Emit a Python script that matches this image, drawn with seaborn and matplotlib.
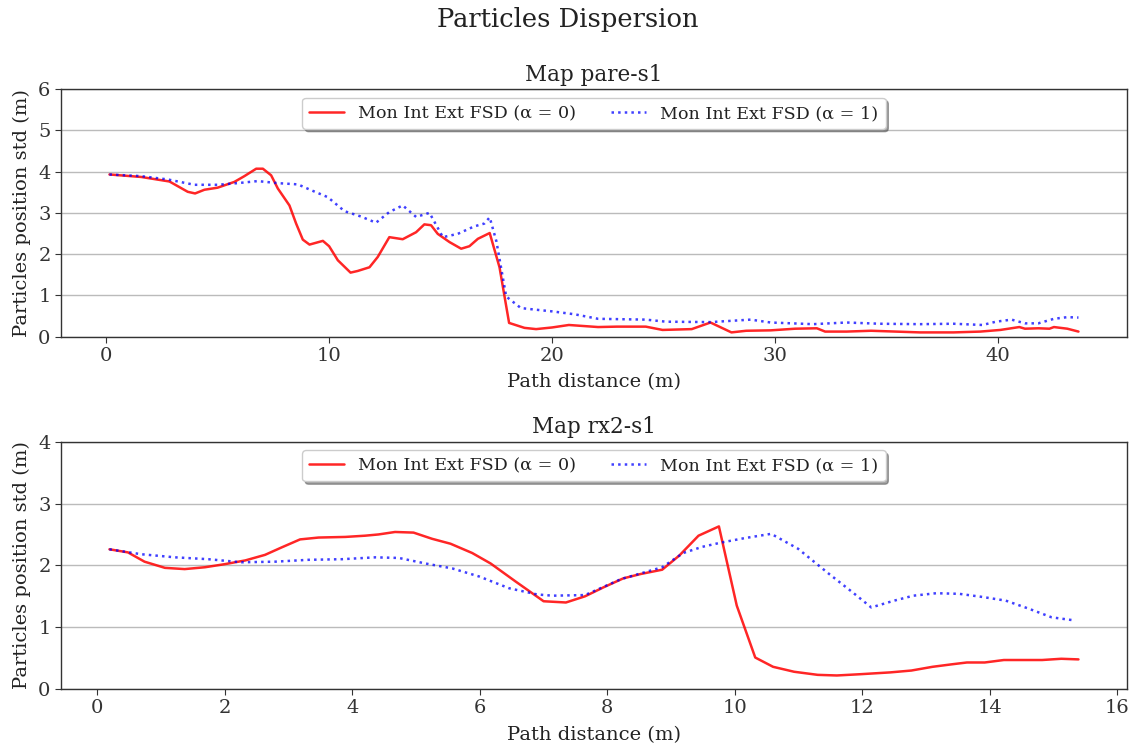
import matplotlib
matplotlib.use("Agg")
import matplotlib.pyplot as plt
import seaborn as sns
import numpy as np

# ---- Data: Map pare-s1 ----
pare_x_a0 = [0.15, 1.57, 2.84, 3.66, 3.99, 4.41, 5.0, 5.75, 6.2, 6.73, 7.03, 7.4, 7.7, 8.22,
             8.52, 8.82, 9.12, 9.72, 10.0, 10.39, 10.96, 11.28, 11.81, 12.18, 12.7, 13.3, 13.9,
             14.27, 14.57, 14.87, 15.4, 15.92, 16.29, 16.67, 17.2, 17.64, 18.07, 18.76, 19.28,
             20.0, 20.75, 22.06, 22.9, 24.2, 24.95, 26.26, 27.1, 28.04, 28.7, 29.8, 30.9,
             31.87, 32.24, 33.2, 34.3, 35.4, 36.5, 38.0, 39.2, 40.1, 40.95, 41.2, 41.8, 42.3,
             42.5, 43.1, 43.6]
pare_y_a0 = [3.93, 3.87, 3.76, 3.51, 3.47, 3.56, 3.61, 3.75, 3.89, 4.07, 4.07, 3.91, 3.59, 3.18,
             2.74, 2.35, 2.23, 2.32, 2.19, 1.85, 1.55, 1.59, 1.68, 1.93, 2.41, 2.36, 2.53,
             2.72, 2.70, 2.49, 2.29, 2.13, 2.19, 2.37, 2.51, 1.68, 0.33, 0.21, 0.18,
             0.22, 0.28, 0.23, 0.24, 0.24, 0.16, 0.18, 0.34, 0.10, 0.14, 0.15, 0.19,
             0.20, 0.12, 0.12, 0.14, 0.12, 0.10, 0.10, 0.12, 0.16, 0.23, 0.19, 0.20, 0.19,
             0.23, 0.19, 0.12]

pare_x_a1 = [0.15, 1.57, 2.76, 3.96, 5.0, 5.9, 6.8, 7.7, 8.6, 9.19, 9.94, 10.69, 11.43, 12.1,
             12.7, 13.3, 13.9, 14.5, 15.1, 15.77, 16.5, 16.96, 17.2, 17.5, 17.94, 18.6, 19.28,
             20.0, 21.0, 22.06, 24.2, 25.1, 27.1, 28.9, 29.8, 31.7, 33.2, 34.7, 36.5, 38.0,
             39.3, 39.9, 40.6, 41.2, 41.8, 42.5, 43.1, 43.6]
pare_y_a1 = [3.93, 3.89, 3.81, 3.68, 3.68, 3.72, 3.77, 3.72, 3.69, 3.55, 3.38, 3.04, 2.91, 2.76,
             3.02, 3.18, 2.90, 3.00, 2.41, 2.49, 2.67, 2.74, 2.89, 2.31, 0.97, 0.69, 0.65,
             0.61, 0.54, 0.43, 0.41, 0.36, 0.35, 0.41, 0.34, 0.30, 0.34, 0.31, 0.30, 0.31,
             0.28, 0.36, 0.41, 0.32, 0.32, 0.43, 0.47, 0.46]

# ---- Data: Map rx2-s1 ----
rx2_x_a0 = [0.19, 0.48, 0.74, 1.06, 1.37, 1.69, 2.0, 2.32, 2.63, 2.89, 3.18, 3.47, 3.89, 4.2,
            4.41, 4.67, 4.96, 5.25, 5.54, 5.88, 6.17, 6.56, 7.0, 7.35, 7.65, 7.95, 8.25,
            8.52, 8.86, 9.13, 9.43, 9.75, 10.03, 10.32, 10.6, 10.93, 11.3, 11.6, 11.96,
            12.44, 12.77, 13.1, 13.4, 13.64, 13.92, 14.22, 14.55, 14.82, 15.12, 15.39]
rx2_y_a0 = [2.26, 2.21, 2.06, 1.96, 1.94, 1.97, 2.02, 2.08, 2.17, 2.29, 2.42, 2.45, 2.46, 2.48,
            2.50, 2.54, 2.53, 2.43, 2.35, 2.20, 2.03, 1.74, 1.42, 1.40, 1.50, 1.65, 1.79,
            1.86, 1.93, 2.16, 2.48, 2.63, 1.35, 0.51, 0.36, 0.28, 0.23, 0.22, 0.24,
            0.27, 0.30, 0.36, 0.40, 0.43, 0.43, 0.47, 0.47, 0.47, 0.49, 0.48]

rx2_x_a1 = [0.19, 0.69, 1.22, 1.74, 2.26, 2.79, 3.31, 3.84, 4.36, 4.73, 5.15, 5.57, 5.99, 6.46,
            6.9, 7.14, 7.65, 8.22, 8.86, 9.19, 9.49, 9.79, 10.15, 10.57, 10.99, 11.48, 11.84,
            12.14, 12.5, 12.8, 13.16, 13.52, 13.88, 14.25, 14.61, 14.97, 15.33]
rx2_y_a1 = [2.26, 2.18, 2.13, 2.10, 2.05, 2.06, 2.09, 2.10, 2.13, 2.12, 2.03, 1.95, 1.82, 1.63,
            1.53, 1.51, 1.52, 1.78, 1.97, 2.20, 2.30, 2.37, 2.44, 2.51, 2.27, 1.86, 1.57,
            1.32, 1.43, 1.51, 1.55, 1.54, 1.49, 1.43, 1.30, 1.16, 1.11]

titles = ["Map pare-s1", "Map rx2-s1"]
suptitle = "Particles Dispersion"
label_a0 = "Mon Int Ext FSD (\u03b1 = 0)"
label_a1 = "Mon Int Ext FSD (\u03b1 = 1)"
xlabel = "Path distance (m)"
ylabel = "Particles position std (m)"
ylims = [(0, 6), (0, 4)]

sns.set_theme(style="ticks")
plt.rcParams['font.family'] = ['DejaVu Serif']
plt.rcParams['axes.edgecolor'] = '#333333'
plt.rcParams['xtick.color'] = '#333333'
plt.rcParams['ytick.color'] = '#333333'
plt.rcParams['text.color'] = '#222222'
plt.rcParams['axes.labelcolor'] = '#222222'

fig, axes = plt.subplots(2, 1, figsize=(11.36, 7.49), dpi=100)
fig.subplots_adjust(left=0.0537, right=0.992, top=0.881, bottom=0.080, hspace=0.425)

datasets = [
    (pare_x_a0, pare_y_a0, pare_x_a1, pare_y_a1),
    (rx2_x_a0, rx2_y_a0, rx2_x_a1, rx2_y_a1),
]

for ax, (xa, ya, xb, yb), title, yl in zip(axes, datasets, titles, ylims):
    sns.lineplot(x=xa, y=ya, ax=ax, color="red", alpha=0.85, linewidth=1.8,
                 label=label_a0, sort=False)
    sns.lineplot(x=xb, y=yb, ax=ax, color="blue", alpha=0.75, linewidth=1.8,
                 linestyle=":", label=label_a1, sort=False)
    ax.set_ylim(*yl)
    ax.set_title(title, fontsize=15.5)
    ax.set_xlabel(xlabel, fontsize=14, labelpad=6)
    ax.set_ylabel(ylabel, fontsize=14, labelpad=5)
    ax.tick_params(axis='both', labelsize=14, length=4, width=0.8)
    ax.grid(axis='y', color='#bbbbbb', linewidth=1)
    ax.grid(axis='x', visible=False)
    for s in ax.spines.values():
        s.set_visible(True)
        s.set_linewidth(1.0)
    leg = ax.legend(loc="upper center", ncol=2, shadow=True, fontsize=12.6,
                    frameon=True, fancybox=True, borderpad=0.4, columnspacing=2.0,
                    framealpha=1.0)
    leg.get_frame().set_edgecolor('#cccccc')

fig.suptitle(suptitle, fontsize=18.5, y=0.99)
fig.savefig("out.png", dpi=100)
